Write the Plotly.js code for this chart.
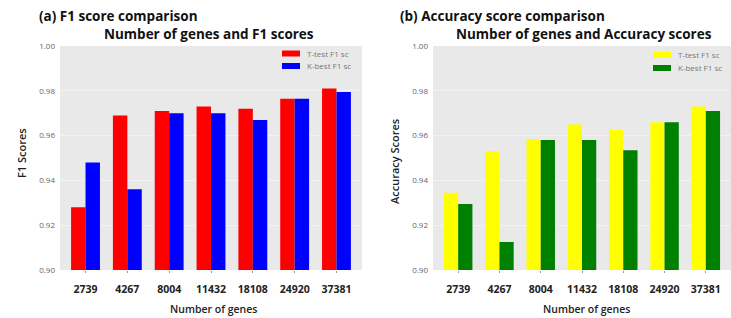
<!DOCTYPE html>
<html>
<head>
<meta charset="utf-8">
<script src="https://cdn.plot.ly/plotly-3.0.1.min.js"></script>
<style>html,body{margin:0;padding:0;background:#fff;}#chart{width:731px;height:318px;}</style>
</head>
<body>
<div id="chart"></div>
<script>
// Data
const genes = ['2739', '4267', '8004', '11432', '18108', '24920', '37381'];
const f1TTest = [0.928, 0.969, 0.971, 0.973, 0.972, 0.9765, 0.981];
const f1KBest = [0.948, 0.936, 0.970, 0.970, 0.967, 0.9765, 0.9795];
const accTTest = [0.9345, 0.953, 0.9585, 0.965, 0.9625, 0.966, 0.973];
const accKBest = [0.9295, 0.9125, 0.958, 0.958, 0.9535, 0.966, 0.971];
const yTicks = [0.90, 0.92, 0.94, 0.96, 0.98, 1.00];
const legendNames = ['T-test F1 sc', 'K-best F1 sc'];
const colorsA = ['#ff0000', '#0000ff'];
const colorsB = ['#ffff00', '#008000'];

const W = 731, H = 318;
const px = x => x / W;
const py = y => 1 - y / H;

const traces = [
  {type: 'bar', x: genes, y: f1TTest, name: legendNames[0], marker: {color: colorsA[0]}, xaxis: 'x', yaxis: 'y'},
  {type: 'bar', x: genes, y: f1KBest, name: legendNames[1], marker: {color: colorsA[1]}, xaxis: 'x', yaxis: 'y'},
  {type: 'bar', x: genes, y: accTTest, name: legendNames[0], marker: {color: colorsB[0]}, xaxis: 'x2', yaxis: 'y2'},
  {type: 'bar', x: genes, y: accKBest, name: legendNames[1], marker: {color: colorsB[1]}, xaxis: 'x2', yaxis: 'y2'}
];

const tickFontX = {family: 'Open Sans, sans-serif', size: 10.5, color: '#222', weight: 700};
const tickFontY = {family: 'Open Sans, sans-serif', size: 8, color: '#666'};
const baseX = {type: 'category', range: [-0.61, 6.61], tickfont: tickFontX, showgrid: false, zeroline: false, ticks: 'outside', ticklen: 2, tickcolor: '#999', showline: false, ticklabelstandoff: 7};
const baseY = {range: [0.90, 1.00], tickvals: yTicks, tickformat: '.2f', tickfont: tickFontY, showgrid: true, gridcolor: '#f2f2f2', gridwidth: 1, zeroline: false, ticks: '', showline: false, ticklabelstandoff: 4};

const titleFont = {family: 'Open Sans, sans-serif', size: 13.5, color: '#111', weight: 700};
const axTitleFont = {family: 'Open Sans, sans-serif', size: 11, color: '#222', weight: 600};
const xTitleFont = {family: 'Open Sans, sans-serif', size: 10.5, color: '#222', weight: 600};
const legFont = {family: 'Open Sans, sans-serif', size: 8, color: '#777'};

// Hand-built legends (tight spacing, wide swatches as in the reference)
const shapes = [];
const legendAnn = [];
function addLegend(x0, yc, colors) {
  legendNames.forEach((name, i) => {
    const y = yc[i];
    shapes.push({type: 'rect', xref: 'paper', yref: 'paper', x0: px(x0), x1: px(x0 + 18), y0: py(y + 3), y1: py(y - 3), fillcolor: colors[i], line: {width: 0}});
    legendAnn.push({text: name, xref: 'paper', yref: 'paper', x: px(x0 + 23), y: py(y), xanchor: 'left', yanchor: 'middle', showarrow: false, font: legFont});
  });
}
addLegend(282, [53.5, 66], colorsA);
addLegend(653, [55, 68], colorsB);

const layout = {
  width: W, height: H,
  margin: {l: 0, r: 0, t: 0, b: 0},
  paper_bgcolor: '#ffffff',
  plot_bgcolor: '#e9e9e9',
  barmode: 'group',
  bargap: 0.31,
  bargroupgap: 0,
  showlegend: false,
  xaxis: Object.assign({}, baseX, {domain: [px(60), px(362)], anchor: 'y'}),
  yaxis: Object.assign({}, baseY, {domain: [py(270), py(46)], anchor: 'x'}),
  xaxis2: Object.assign({}, baseX, {domain: [px(433), 1], anchor: 'y2'}),
  yaxis2: Object.assign({}, baseY, {domain: [py(270), py(46)], anchor: 'x2'}),
  shapes: shapes,
  annotations: [
    {text: '(a) F1 score comparison', xref: 'paper', yref: 'paper', x: px(37), y: py(16), xanchor: 'left', yanchor: 'middle', showarrow: false, font: titleFont},
    {text: 'Number of genes and F1 scores', xref: 'paper', yref: 'paper', x: px(209), y: py(33.5), xanchor: 'center', yanchor: 'middle', showarrow: false, font: titleFont},
    {text: '(b) Accuracy score comparison', xref: 'paper', yref: 'paper', x: px(398), y: py(16), xanchor: 'left', yanchor: 'middle', showarrow: false, font: titleFont},
    {text: 'Number of genes and Accuracy scores', xref: 'paper', yref: 'paper', x: px(584), y: py(33.5), xanchor: 'center', yanchor: 'middle', showarrow: false, font: titleFont},
    {text: 'F1 Scores', xref: 'paper', yref: 'paper', x: px(21), y: py(153), xanchor: 'center', yanchor: 'middle', textangle: -90, showarrow: false, font: axTitleFont},
    {text: 'Accuracy Scores', xref: 'paper', yref: 'paper', x: px(394), y: py(162), xanchor: 'center', yanchor: 'middle', textangle: -90, showarrow: false, font: axTitleFont},
    {text: 'Number of genes', xref: 'paper', yref: 'paper', x: px(213), y: py(309), xanchor: 'center', yanchor: 'middle', showarrow: false, font: xTitleFont},
    {text: 'Number of genes', xref: 'paper', yref: 'paper', x: px(586), y: py(309), xanchor: 'center', yanchor: 'middle', showarrow: false, font: xTitleFont}
  ].concat(legendAnn)
};

Plotly.newPlot('chart', traces, layout, {staticPlot: true, displayModeBar: false});
</script>
</body>
</html>
